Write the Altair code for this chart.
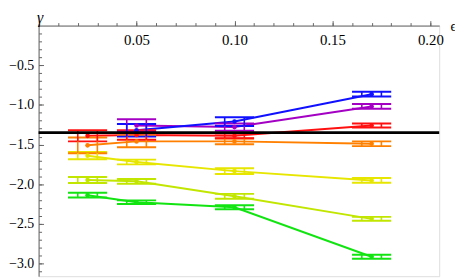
import altair as alt
import pandas as pd

# ---------------- data ----------------
series_names = ["green", "yellowgreen", "yellow", "orange", "red", "purple", "blue"]
series_colors = ["#12e412", "#c2e600", "#e6e600", "#ff8000", "#ff1010", "#a400c4", "#1010ff"]

x_green = [0.025, 0.05, 0.10, 0.17]
y_green = [-2.138, -2.227, -2.290, -2.914]
dy_green = [0.030, 0.023, 0.025, 0.025]

x_ygreen = [0.025, 0.05, 0.10, 0.17]
y_ygreen = [-1.947, -1.963, -2.152, -2.437]
dy_ygreen = [0.037, 0.030, 0.030, 0.025]

x_yellow = [0.025, 0.05, 0.10, 0.17]
y_yellow = [-1.640, -1.720, -1.835, -1.953]
dy_yellow = [0.045, 0.030, 0.037, 0.030]

x_orange = [0.025, 0.05, 0.10, 0.17]
y_orange = [-1.510, -1.460, -1.460, -1.490]
dy_orange = [0.100, 0.075, 0.035, 0.030]

x_red = [0.025, 0.05, 0.10, 0.17]
y_red = [-1.390, -1.380, -1.390, -1.260]
dy_red = [0.070, 0.060, 0.030, 0.025]

x_purple = [0.05, 0.10, 0.17]
y_purple = [-1.260, -1.280, -1.020]
dy_purple = [0.080, 0.045, 0.030]

x_blue = [0.05, 0.10, 0.17]
y_blue = [-1.320, -1.210, -0.865]
dy_blue = [0.080, 0.055, 0.030]

x_halfwidth = 0.010      # horizontal extent of each error box
x_inner = 0.005          # position of the inner vertical strokes
ref_level = [-1.35]

x_major = [0.05, 0.10, 0.15, 0.20]
x_minor = [round(0.01 * i, 2) for i in range(1, 21)]
y_major = [-0.5, -1.0, -1.5, -2.0, -2.5, -3.0]
y_minor = [round(-0.1 * i, 1) for i in range(1, 32)]

# ---------------- table ----------------
series_data = [
    ("green", x_green, y_green, dy_green),
    ("yellowgreen", x_ygreen, y_ygreen, dy_ygreen),
    ("yellow", x_yellow, y_yellow, dy_yellow),
    ("orange", x_orange, y_orange, dy_orange),
    ("red", x_red, y_red, dy_red),
    ("purple", x_purple, y_purple, dy_purple),
    ("blue", x_blue, y_blue, dy_blue),
]
rows = []
for name, xs_, ys_, ds_ in series_data:
    for xv, yv, dv in zip(xs_, ys_, ds_):
        rows.append({"series": name, "x": xv, "y": yv, "dy": dv})
df = pd.DataFrame(rows)
df["xl"] = df["x"] - x_halfwidth
df["xr"] = df["x"] + x_halfwidth
df["xil"] = df["x"] - x_inner
df["xir"] = df["x"] + x_inner
df["ylo"] = df["y"] - df["dy"]
df["yhi"] = df["y"] + df["dy"]

ref_df = pd.DataFrame({"y": ref_level})

# ---------------- scales / axes ----------------
W, H = 406, 254
xs = alt.Scale(domain=[0, 0.2045], nice=False, zero=False)
ys = alt.Scale(domain=[-3.16, 0], nice=False, zero=False)
cs = alt.Scale(domain=series_names, range=series_colors)
FONT = "Liberation Serif, Times New Roman, serif"
AX = "#666666"

x_axis = alt.Axis(
    orient="top", values=x_major, format=".2f", tickSize=5, labelPadding=-19,
    labelBaseline="middle", labelFont=FONT, labelFontSize=15, labelColor="black",
    labelOverlap=False, domainColor=AX, tickColor=AX, grid=False,
    title="ϵ", titleX=W + 11, titleY=1, titleAlign="left", titleBaseline="middle",
    titleFont=FONT, titleFontSize=14, titleFontWeight="normal", titleAngle=0,
    titleColor="black",
)
y_axis = alt.Axis(
    orient="right", offset=-W, values=y_major, tickSize=5,
    labelExpr="'\u2212' + format(abs(datum.value), '.1f')",
    labelPadding=-10, labelAlign="right", labelBaseline="middle", labelFont=FONT,
    labelFontSize=14, labelColor="black", labelOverlap=False, domainColor=AX,
    tickColor=AX, grid=False,
    title="γ", titleX=1, titleY=-16, titleAlign="center", titleBaseline="top",
    titleFont=FONT, titleFontSize=16, titleFontWeight="normal", titleAngle=0,
    titleFontStyle="italic", titleColor="black",
)
x_axis_minor = alt.Axis(
    orient="top", values=x_minor, tickSize=3, labels=False, domain=False,
    tickColor=AX, grid=False, title=None,
)
y_axis_minor = alt.Axis(
    orient="right", offset=-W, values=y_minor, tickSize=3, labels=False,
    domain=False, tickColor=AX, grid=False, title=None,
)

color = alt.Color("series:N", scale=cs, legend=None)
base = alt.Chart(df)

lines = base.mark_line(strokeWidth=2).encode(
    x=alt.X("x:Q", scale=xs, axis=x_axis),
    y=alt.Y("y:Q", scale=ys, axis=y_axis),
    color=color, detail="series:N", order="x:Q",
)


def hbar(field):
    return base.mark_rule(strokeWidth=2).encode(
        x=alt.X("xl:Q", scale=xs, axis=x_axis), x2="xr:Q",
        y=alt.Y(field, scale=ys, axis=y_axis), color=color,
    )


def vbar(field):
    return base.mark_rule(strokeWidth=1.6).encode(
        x=alt.X(field, scale=xs, axis=x_axis),
        y=alt.Y("ylo:Q", scale=ys, axis=y_axis), y2="yhi:Q", color=color,
    )


dots = base.mark_point(filled=True, size=22, opacity=1).encode(
    x=alt.X("x:Q", scale=xs, axis=x_axis),
    y=alt.Y("y:Q", scale=ys, axis=y_axis), color=color,
)

ref_rule = alt.Chart(ref_df).mark_rule(color="black", strokeWidth=2.6).encode(
    y=alt.Y("y:Q", scale=ys, axis=y_axis)
)

data_layers = alt.layer(
    lines, hbar("yhi:Q"), hbar("ylo:Q"), vbar("xil:Q"), vbar("xir:Q"), dots, ref_rule
)

minor = base.mark_point(opacity=0).encode(
    x=alt.X("x:Q", scale=xs, axis=x_axis_minor),
    y=alt.Y("y:Q", scale=ys, axis=y_axis_minor),
)

chart = (
    alt.layer(minor, data_layers)
    .resolve_axis(x="independent", y="independent")
    .properties(
        width=W, height=H,
        padding={"left": 31, "top": 16, "right": 16, "bottom": 0},
        autosize=alt.AutoSizeParams(type="none"),
    )
    .configure_view(stroke=None)
    .configure_axis(labelFont=FONT, titleFont=FONT)
    .configure(background="white")
)

chart.save("out.html", embed_options={"renderer": "svg", "actions": False})
